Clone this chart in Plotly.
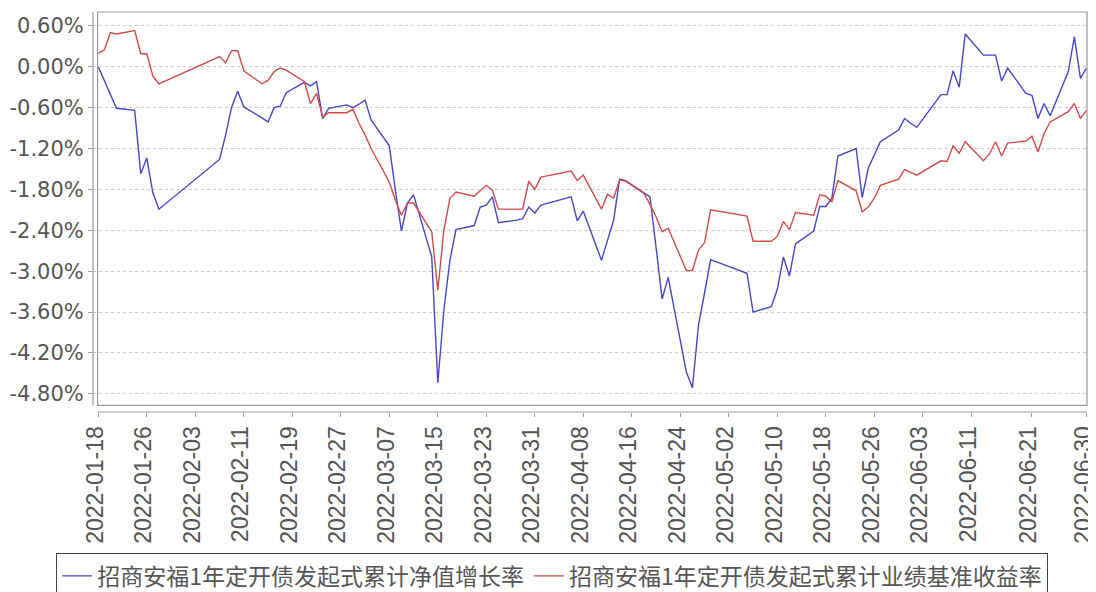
import plotly.graph_objects as go

dates = [
    "2022-01-18", "2022-01-19", "2022-01-20", "2022-01-21", "2022-01-24", "2022-01-25",
    "2022-01-26", "2022-01-27", "2022-01-28", "2022-02-07", "2022-02-08", "2022-02-09",
    "2022-02-10", "2022-02-11", "2022-02-14", "2022-02-15", "2022-02-16", "2022-02-17",
    "2022-02-18", "2022-02-21", "2022-02-22", "2022-02-23", "2022-02-24", "2022-02-25",
    "2022-02-28", "2022-03-01", "2022-03-02", "2022-03-03", "2022-03-04", "2022-03-07",
    "2022-03-08", "2022-03-09", "2022-03-10", "2022-03-11", "2022-03-14", "2022-03-15",
    "2022-03-16", "2022-03-17", "2022-03-18", "2022-03-21", "2022-03-22", "2022-03-23",
    "2022-03-24", "2022-03-25", "2022-03-28", "2022-03-29", "2022-03-30", "2022-03-31",
    "2022-04-01", "2022-04-06", "2022-04-07", "2022-04-08", "2022-04-11", "2022-04-12",
    "2022-04-13", "2022-04-14", "2022-04-15", "2022-04-18", "2022-04-19", "2022-04-20",
    "2022-04-21", "2022-04-22", "2022-04-25", "2022-04-26", "2022-04-27", "2022-04-28",
    "2022-04-29", "2022-05-05", "2022-05-06", "2022-05-09", "2022-05-10", "2022-05-11",
    "2022-05-12", "2022-05-13", "2022-05-16", "2022-05-17", "2022-05-18", "2022-05-19",
    "2022-05-20", "2022-05-23", "2022-05-24", "2022-05-25", "2022-05-26", "2022-05-27",
    "2022-05-30", "2022-05-31", "2022-06-01", "2022-06-02", "2022-06-06", "2022-06-07",
    "2022-06-08", "2022-06-09", "2022-06-10", "2022-06-13", "2022-06-14", "2022-06-15",
    "2022-06-16", "2022-06-17", "2022-06-20", "2022-06-21", "2022-06-22", "2022-06-23",
    "2022-06-24", "2022-06-27", "2022-06-28", "2022-06-29", "2022-06-30",
]

nav_growth = [
    0.00, -0.21, -0.42, -0.61, -0.64, -1.57,
    -1.34, -1.85, -2.09, -1.36, -1.00, -0.59,
    -0.36, -0.59, -0.75, -0.81, -0.60, -0.58,
    -0.38, -0.23, -0.28, -0.22, -0.76, -0.61,
    -0.56, -0.60, -0.55, -0.49, -0.78, -1.16,
    -1.81, -2.41, -2.00, -1.88, -2.79, -4.64,
    -3.57, -2.84, -2.39, -2.33, -2.06, -2.03,
    -1.91, -2.29, -2.25, -2.23, -2.06, -2.15,
    -2.03, -1.91, -2.26, -2.12, -2.84, -2.54,
    -2.25, -1.65, -1.67, -1.85, -1.91, -2.65,
    -3.41, -3.09, -4.48, -4.71, -3.79, -3.32,
    -2.83, -3.03, -3.60, -3.52, -3.27, -2.79,
    -3.07, -2.60, -2.41, -2.05, -2.05, -1.93,
    -1.31, -1.20, -1.92, -1.49, -1.29, -1.10,
    -0.93, -0.76, -0.83, -0.89, -0.41, -0.41,
    -0.06, -0.30, 0.48, 0.17, 0.17, 0.17,
    -0.21, -0.02, -0.39, -0.42, -0.76, -0.54,
    -0.72, -0.07, 0.44, -0.17, -0.02,
]

benchmark = [
    0.20, 0.245, 0.50, 0.48, 0.53, 0.19,
    0.19, -0.14, -0.25, 0.15, 0.06, 0.235,
    0.235, -0.06, -0.25, -0.20, -0.07, -0.02,
    -0.05, -0.22, -0.54, -0.39, -0.74, -0.675,
    -0.675, -0.625, -0.83, -1.00, -1.20, -1.69,
    -1.96, -2.18, -2.00, -2.00, -2.42, -3.28,
    -2.40, -1.93, -1.84, -1.90, -1.82, -1.74,
    -1.81, -2.09, -2.09, -2.09, -1.68, -1.80,
    -1.62, -1.53, -1.67, -1.59, -2.09, -1.87,
    -1.93, -1.66, -1.68, -1.86, -2.02, -2.20,
    -2.42, -2.37, -2.99, -2.99, -2.69, -2.58,
    -2.10, -2.19, -2.56, -2.56, -2.49, -2.27,
    -2.39, -2.14, -2.18, -1.88, -1.90, -1.98,
    -1.67, -1.82, -2.13, -2.06, -1.93, -1.74,
    -1.65, -1.51, -1.55, -1.59, -1.38, -1.39,
    -1.16, -1.27, -1.10, -1.38, -1.28, -1.10,
    -1.31, -1.12, -1.09, -1.02, -1.25, -0.98,
    -0.81, -0.66, -0.54, -0.76, -0.64,
]

x_tick_labels = [
    "2022-01-18", "2022-01-26", "2022-02-03", "2022-02-11", "2022-02-19", "2022-02-27",
    "2022-03-07", "2022-03-15", "2022-03-23", "2022-03-31", "2022-04-08", "2022-04-16",
    "2022-04-24", "2022-05-02", "2022-05-10", "2022-05-18", "2022-05-26", "2022-06-03",
    "2022-06-11", "2022-06-21", "2022-06-30",
]
y_tick_values = [-4.8, -4.2, -3.6, -3.0, -2.4, -1.8, -1.2, -0.6, 0.0, 0.6]
y_tick_labels = ["-4.80%", "-4.20%", "-3.60%", "-3.00%", "-2.40%", "-1.80%",
                 "-1.20%", "-0.60%", "0.00%", "0.60%"]

series_names = ["招商安福1年定开债发起式累计净值增长率", "招商安福1年定开债发起式累计业绩基准收益率"]
series_colors = ["#4646c8", "#d24b4b"]

fig = go.Figure()
for name, vals, col in zip(series_names, [nav_growth, benchmark], series_colors):
    fig.add_trace(go.Scatter(
        x=dates, y=vals, mode="lines", name=name,
        line=dict(color=col, width=1.4),
    ))

# the page body has an 8px margin, so figure coordinates are page coordinates - 8
W, H = 1088, 584
L, R, T, B = 84.7, 9.3, 4, 180.3
pw = W - L - R
ph = H - T - B
bx0 = 4.6 / pw          # plot border left (gap to offset axis line)
by0 = 6.7 / ph          # plot border bottom

y_tick_font = dict(family="DejaVu Sans", size=21, color="#555555")
x_tick_font = dict(family="Liberation Sans", size=23, color="#555555")
axis_col = "#9a9a9a"

fig.update_layout(
    width=W, height=H,
    margin=dict(l=L, r=R, t=T, b=B, pad=0, autoexpand=False),
    paper_bgcolor="white", plot_bgcolor="white",
    showlegend=True,
    legend=dict(
        orientation="h", x=0.462, xanchor="center", y=-141.3 / ph, yanchor="top",
        font=dict(family="Noto Sans CJK SC", size=23, color="#555555"),
        bordercolor="#444444", borderwidth=1, bgcolor="white",
        itemwidth=30, tracegroupgap=0,
    ),
    xaxis=dict(
        type="date", automargin=False,
        range=["2022-01-17 03:00", "2022-06-30 02:00"],
        tickmode="array", tickvals=x_tick_labels, ticktext=x_tick_labels,
        tickangle=-90, tickfont=x_tick_font, ticklabeloverflow="allow",
        ticklabelshift=-3,
        ticks="outside", ticklen=4, tickcolor=axis_col, tickwidth=1,
        showgrid=False, showline=False, zeroline=False,
    ),
    yaxis=dict(
        automargin=False,
        range=[-5.066, 0.803],
        tickmode="array", tickvals=y_tick_values, ticktext=y_tick_labels,
        tickfont=y_tick_font,
        ticks="outside", ticklen=4, tickcolor=axis_col, tickwidth=1,
        showgrid=True, gridcolor="#c8c8c8", gridwidth=1, griddash="3px,3px",
        showline=False, zeroline=False,
    ),
    shapes=[
        dict(type="rect", xref="paper", yref="paper", x0=0, x1=bx0, y0=0, y1=1,
             fillcolor="white", line=dict(width=0), layer="between"),
        dict(type="rect", xref="paper", yref="paper", x0=bx0, x1=1, y0=by0, y1=1,
             line=dict(color=axis_col, width=1.2), layer="above"),
        dict(type="line", xref="paper", yref="paper", x0=0, x1=0, y0=by0, y1=1,
             line=dict(color=axis_col, width=1.2)),
        dict(type="line", xref="paper", yref="paper", x0=bx0, x1=1, y0=0, y1=0,
             line=dict(color=axis_col, width=1.2)),
    ],
)

fig.write_html("out.html")
